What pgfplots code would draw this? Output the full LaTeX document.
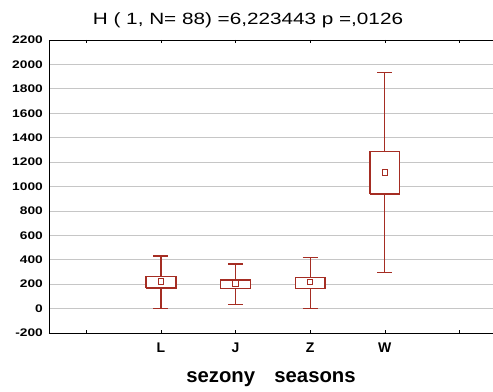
\documentclass[border=0pt]{standalone}
\usepackage{fontspec}
\setmainfont{Liberation Sans}
\newfontfamily\stretchfont[FakeStretch=1.25]{Liberation Sans}
\newfontfamily\titlefont[FakeStretch=1.27]{Liberation Sans}
\usepackage{pgfplots}
\pgfplotsset{compat=1.18}
\definecolor{boxred}{RGB}{165,45,35}
\begin{document}
\begin{tikzpicture}
\begin{axis}[
  name=ax,
  scale only axis,
  width=444pt, height=293pt,
  xmin=0.5, xmax=6.45,
  ymin=-200, ymax=2200,
  separate axis lines,
  x axis line style={black, line width=0.8pt},
  y axis line style={draw=none},
  xtick={1,2,3,4,5,6},
  xticklabels={,L,J,Z,W,},
  ytick={-200,0,200,400,600,800,1000,1200,1400,1600,1800,2000,2200},
  yticklabels={-200,0,200,400,600,800,1000,1200,1400,1600,1800,2000,2200},
  ytick style={draw=none},
  xtick style={black, line width=0.6pt},
  major tick length=3pt,
  tick align=inside,
  ymajorgrids,
  grid style={gray!45, line width=0.7pt},
  yticklabel style={font=\stretchfont\bfseries\fontsize{11}{13}\selectfont, anchor=east, inner sep=0pt, xshift=-6pt},
  xticklabel style={font=\bfseries\fontsize{14}{16}\selectfont, anchor=base, inner sep=0pt, yshift=-19.7pt},
  xlabel={sezony\hspace{0.95em}seasons},
  xlabel style={font=\bfseries\fontsize{20.3}{24}\selectfont, at={(0.5,0)}, anchor=base, inner sep=0pt, yshift=-50pt},
]
% whiskers (vertical lines)
\addplot[boxred, line width=1.3pt, no marks] coordinates {(2,0) (2,431)};
\addplot[boxred, line width=1.3pt, no marks] coordinates {(3,35) (3,365)};
\addplot[boxred, line width=1.3pt, no marks] coordinates {(4,0) (4,420)};
\addplot[boxred, line width=1.3pt, no marks] coordinates {(5,297) (5,1933)};
% whisker caps
\addplot[boxred, line width=1.3pt, no marks] coordinates {(1.9,0) (2.1,0)};
\addplot[boxred, line width=1.3pt, no marks] coordinates {(1.9,431) (2.1,431)};
\addplot[boxred, line width=1.3pt, no marks] coordinates {(2.9,35) (3.1,35)};
\addplot[boxred, line width=1.3pt, no marks] coordinates {(2.9,365) (3.1,365)};
\addplot[boxred, line width=1.3pt, no marks] coordinates {(3.9,0) (4.1,0)};
\addplot[boxred, line width=1.3pt, no marks] coordinates {(3.9,420) (4.1,420)};
\addplot[boxred, line width=1.3pt, no marks] coordinates {(4.9,297) (5.1,297)};
\addplot[boxred, line width=1.3pt, no marks] coordinates {(4.9,1933) (5.1,1933)};
% box fills
\addplot[draw=none, fill=white, no marks] coordinates {(1.8,169) (2.2,169) (2.2,262) (1.8,262)} -- cycle;
\addplot[draw=none, fill=white, no marks] coordinates {(2.8,164) (3.2,164) (3.2,234) (2.8,234)} -- cycle;
\addplot[draw=none, fill=white, no marks] coordinates {(3.8,164) (4.2,164) (4.2,256) (3.8,256)} -- cycle;
\addplot[draw=none, fill=white, no marks] coordinates {(4.8,939) (5.2,939) (5.2,1288) (4.8,1288)} -- cycle;
% box outlines
\addplot[boxred, line width=1.3pt, no marks, line join=miter] coordinates {(1.8,169) (2.2,169) (2.2,262) (1.8,262) (1.8,169)};
\addplot[boxred, line width=1.3pt, no marks, line join=miter] coordinates {(2.8,164) (3.2,164) (3.2,234) (2.8,234) (2.8,164)};
\addplot[boxred, line width=1.3pt, no marks, line join=miter] coordinates {(3.8,164) (4.2,164) (4.2,256) (3.8,256) (3.8,164)};
\addplot[boxred, line width=1.3pt, no marks, line join=miter] coordinates {(4.8,939) (5.2,939) (5.2,1288) (4.8,1288) (4.8,939)};
% means
\addplot[only marks, mark=square, mark size=2.6pt, mark options={draw=boxred, line width=1pt, fill=white}] coordinates {(2,221) (3,205) (4,215) (5,1114)};
\end{axis}
\draw[black, line width=0.8pt] (ax.south west) -- (ax.north west);
\node[anchor=base, inner sep=0pt, font=\titlefont\fontsize{16.3}{19}\selectfont] at ([xshift=199pt,yshift=15pt]ax.north west) {H ( 1, N= 88) =6,223443 p =,0126};
\pgfresetboundingbox
\path[use as bounding box] ([xshift=-49pt,yshift=-59pt]ax.south west) rectangle ([yshift=40pt]ax.north east);
\end{tikzpicture}
\end{document}
